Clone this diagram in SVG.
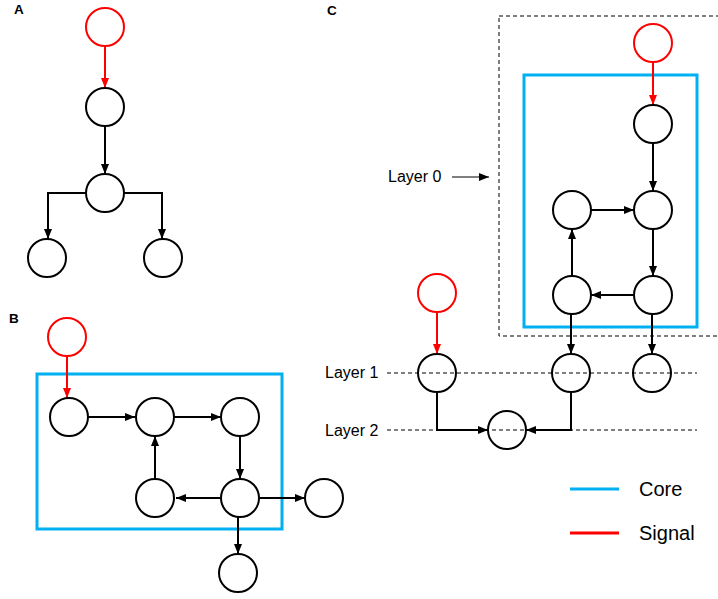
<svg xmlns="http://www.w3.org/2000/svg" width="718" height="599" viewBox="0 0 718 599">
<style>
.n{fill:none;stroke:#000;stroke-width:2}
.s{fill:none;stroke:#f00;stroke-width:2}
.core{fill:none;stroke:#00b0f0;stroke-width:3}
.e{fill:none;stroke:#000;stroke-width:2}
.es{fill:none;stroke:#f00;stroke-width:2}
.d{fill:none;stroke:#000;stroke-width:1;stroke-dasharray:4 3}
.lbl{font-family:"Liberation Sans",Arial,sans-serif;font-weight:bold;font-size:13.5px;fill:#000}
.t{font-family:"Liberation Sans",Arial,sans-serif;font-size:16px;fill:#000}
.lg{font-family:"Liberation Sans",Arial,sans-serif;font-size:20px;fill:#000}
</style>
<defs>
<marker id="ah" markerUnits="userSpaceOnUse" markerWidth="10" markerHeight="10" viewBox="0 0 10 10" refX="10" refY="5" orient="auto"><path d="M0,1 L10,5 L0,9 Z" fill="#000"/></marker>
<marker id="ahr" markerUnits="userSpaceOnUse" markerWidth="10" markerHeight="10" viewBox="0 0 10 10" refX="10" refY="5" orient="auto"><path d="M0,1 L10,5 L0,9 Z" fill="#f00"/></marker>
</defs>
<text class="lbl" x="14" y="14">A</text>
<text class="lbl" x="9" y="323">B</text>
<text class="lbl" x="327" y="15">C</text>
<!-- Panel C frames -->
<rect class="d" x="499" y="16" width="222" height="320"/>
<rect class="core" x="524" y="75" width="173" height="252"/>
<rect class="core" x="37" y="374" width="245" height="155"/>
<!-- layer lines -->
<line class="d" x1="387" y1="373" x2="697" y2="373"/>
<line class="d" x1="387" y1="430" x2="697" y2="430"/>
<text class="t" x="388" y="182">Layer 0</text>
<text class="t" x="325" y="378">Layer 1</text>
<text class="t" x="325" y="436">Layer 2</text>
<g id="connectors">
<!-- A -->
<line class="es" x1="105" y1="46" x2="105" y2="88" marker-end="url(#ahr)"/>
<line class="e" x1="105" y1="126" x2="105" y2="174" marker-end="url(#ah)"/>
<polyline class="e" points="86,193 48,193 48,239" marker-end="url(#ah)"/>
<polyline class="e" points="124,193 162,193 162,239" marker-end="url(#ah)"/>
<!-- B -->
<line class="es" x1="67" y1="357" x2="67" y2="398" marker-end="url(#ahr)"/>
<line class="e" x1="88" y1="417" x2="135" y2="417" marker-end="url(#ah)"/>
<line class="e" x1="174" y1="417" x2="221" y2="417" marker-end="url(#ah)"/>
<line class="e" x1="240" y1="436" x2="240" y2="479" marker-end="url(#ah)"/>
<line class="e" x1="221" y1="498" x2="176" y2="498" marker-end="url(#ah)"/>
<line class="e" x1="155" y1="479" x2="155" y2="436" marker-end="url(#ah)"/>
<line class="e" x1="259" y1="498" x2="305" y2="498" marker-end="url(#ah)"/>
<line class="e" x1="238" y1="517" x2="238" y2="554" marker-end="url(#ah)"/>
<!-- C -->
<line class="es" x1="653" y1="62" x2="653" y2="105" marker-end="url(#ahr)"/>
<line class="e" x1="653" y1="143" x2="653" y2="191" marker-end="url(#ah)"/>
<line class="e" x1="591" y1="210" x2="634" y2="210" marker-end="url(#ah)"/>
<line class="e" x1="653" y1="229" x2="653" y2="276" marker-end="url(#ah)"/>
<line class="e" x1="634" y1="295" x2="591" y2="295" marker-end="url(#ah)"/>
<line class="e" x1="572" y1="276" x2="572" y2="229" marker-end="url(#ah)"/>
<line class="e" x1="571" y1="314" x2="571" y2="354" marker-end="url(#ah)"/>
<line class="e" x1="652" y1="314" x2="652" y2="354" marker-end="url(#ah)"/>
<line class="es" x1="437" y1="312" x2="437" y2="354" marker-end="url(#ahr)"/>
<polyline class="e" points="437,392 437,430 488,430" marker-end="url(#ah)"/>
<polyline class="e" points="571,392 571,430 526,430" marker-end="url(#ah)"/>
<line x1="452" y1="177" x2="489" y2="177" stroke="#000" stroke-width="1.2" marker-end="url(#ah)"/>
</g>
<!-- A nodes -->
<g id="a_sig"><circle class="s" cx="105" cy="27" r="19"/></g>
<g id="a1"><circle class="n" cx="105" cy="107" r="19"/></g>
<g id="a2"><circle class="n" cx="105" cy="193" r="19"/></g>
<g id="a3"><circle class="n" cx="47" cy="258" r="19"/></g>
<g id="a4"><circle class="n" cx="163" cy="258" r="19"/></g>
<!-- B nodes -->
<g id="b_sig"><circle class="s" cx="67" cy="337" r="19"/></g>
<g id="b1"><circle class="n" cx="69" cy="417" r="19"/></g>
<g id="b2"><circle class="n" cx="155" cy="417" r="19"/></g>
<g id="b3"><circle class="n" cx="240" cy="417" r="19"/></g>
<g id="b4"><circle class="n" cx="155" cy="498" r="19"/></g>
<g id="b5"><circle class="n" cx="240" cy="498" r="19"/></g>
<g id="b6"><circle class="n" cx="324" cy="498" r="19"/></g>
<g id="b7"><circle class="n" cx="238" cy="573" r="19"/></g>
<!-- C nodes -->
<g id="c_sig"><circle class="s" cx="653" cy="43" r="19"/></g>
<g id="c1"><circle class="n" cx="653" cy="124" r="19"/></g>
<g id="c2"><circle class="n" cx="653" cy="210" r="19"/></g>
<g id="c3"><circle class="n" cx="572" cy="210" r="19"/></g>
<g id="c4"><circle class="n" cx="653" cy="295" r="19"/></g>
<g id="c5"><circle class="n" cx="572" cy="295" r="19"/></g>
<g id="c_sig2"><circle class="s" cx="437" cy="293" r="19"/></g>
<g id="l1a"><circle class="n" cx="437" cy="373" r="19"/></g>
<g id="l1b"><circle class="n" cx="571" cy="373" r="19"/></g>
<g id="l1c"><circle class="n" cx="652" cy="373" r="19"/></g>
<g id="l2"><circle class="n" cx="507" cy="430" r="19"/></g>
<!-- legend -->
<g id="legend">
<line x1="570" y1="489" x2="619" y2="489" stroke="#00b0f0" stroke-width="3"/>
<text class="lg" x="639" y="496">Core</text>
<line x1="570" y1="533" x2="619" y2="533" stroke="#f00" stroke-width="3"/>
<text class="lg" x="639" y="540">Signal</text>
</g>
</svg>
